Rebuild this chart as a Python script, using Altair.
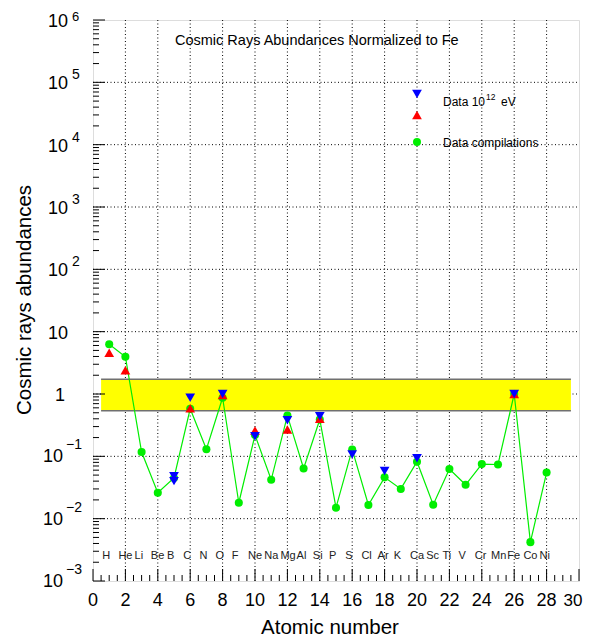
import altair as alt
import pandas as pd

# ---------------- data ----------------
elements = ["H", "He", "Li", "Be", "B", "C", "N", "O", "F", "Ne", "Na", "Mg", "Al", "Si",
            "P", "S", "Cl", "Ar", "K", "Ca", "Sc", "Ti", "V", "Cr", "Mn", "Fe", "Co", "Ni"]
z_all = list(range(1, 29))
compilation = [6.3, 3.96, 0.117, 0.026, 0.045, 0.58, 0.13, 0.87, 0.018, 0.22, 0.042, 0.45,
               0.064, 0.39, 0.015, 0.129, 0.0166, 0.046, 0.030, 0.082, 0.0167, 0.0625,
               0.035, 0.075, 0.074, 1.0, 0.0042, 0.055]
red_z = [1, 2, 6, 8, 10, 12, 14, 26]
red_v = [4.6, 2.4, 0.59, 0.96, 0.26, 0.27, 0.40, 1.0]
blue_z = [5, 5, 6, 8, 10, 12, 14, 16, 18, 20, 26]
blue_v = [0.048, 0.040, 0.87, 1.0, 0.21, 0.38, 0.44, 0.107, 0.058, 0.093, 1.0]
band_x = [0.5, 29.5]
band_y = [0.54, 1.73]
label_row_y = 0.0025
x_ticks = list(range(0, 31, 2))
y_exp_pos = [6, 5, 4, 3, 2]
y_exp_neg = [-1, -2, -3]

W, H = 486, 561
FONT = "Liberation Sans"

xs = alt.Scale(domain=[0, 30], nice=False, zero=False)
ys = alt.Scale(type="log", domain=[1e-3, 1e6], nice=False)

X = lambda f: alt.X(f, scale=xs, axis=None)
Y = lambda f: alt.Y(f, scale=ys, axis=None)

comp_df = pd.DataFrame({"z": z_all, "v": compilation, "el": elements})
red_df = pd.DataFrame({"z": red_z, "v": red_v})
blue_df = pd.DataFrame({"z": blue_z, "v": blue_v})
band_df = pd.DataFrame({"x": [band_x[0]], "x2": [band_x[1]], "y": [band_y[0]], "y2": [band_y[1]]})
band_lines_df = pd.DataFrame({"x": band_x[0], "x2": band_x[1], "y": band_y})
lbl_df = pd.DataFrame({"z": z_all, "el": elements, "y": label_row_y})

# grid
xgrid_df = pd.DataFrame({"x": x_ticks[1:-1]})
ygrid_df = pd.DataFrame({"y": [10.0 ** k for k in range(-2, 6)]})
xgrid = alt.Chart(xgrid_df).mark_rule(color="black", strokeDash=[1, 2.5], strokeWidth=1).encode(
    x=X("x:Q"), y=alt.value(0), y2=alt.value(H))
ygrid = alt.Chart(ygrid_df).mark_rule(color="black", strokeDash=[1, 2.5], strokeWidth=1).encode(
    y=Y("y:Q"), x=alt.value(0), x2=alt.value(W))

# inner ticks
x_major_df = pd.DataFrame({"x": x_ticks})
x_minor_df = pd.DataFrame({"x": [i * 0.5 for i in range(1, 60) if (i * 0.5) % 2 != 0]})
xmaj = alt.Chart(x_major_df).mark_rule(color="black").encode(
    x=X("x:Q"), y=alt.value(H), y2=alt.value(H - 12))
xmin = alt.Chart(x_minor_df).mark_rule(color="black").encode(
    x=X("x:Q"), y=alt.value(H), y2=alt.value(H - 6))
y_major_df = pd.DataFrame({"y": [10.0 ** k for k in range(-3, 7)]})
y_minor_df = pd.DataFrame({"y": [m * 10.0 ** k for k in range(-3, 6) for m in range(2, 10)]})
ymaj = alt.Chart(y_major_df).mark_rule(color="black").encode(
    y=Y("y:Q"), x=alt.value(0), x2=alt.value(12))
ymin = alt.Chart(y_minor_df).mark_rule(color="black").encode(
    y=Y("y:Q"), x=alt.value(0), x2=alt.value(6))

# x tick labels and axis titles
xlab = alt.Chart(pd.DataFrame({"x": x_ticks[:-1]})).mark_text(
    align="center", baseline="middle", font=FONT, fontSize=18, color="black").encode(
    x=X("x:Q"), y=alt.value(H + 20), text="x:N")
xlab_last = alt.Chart(pd.DataFrame({"x": x_ticks[-1:]})).mark_text(
    align="center", baseline="middle", font=FONT, fontSize=17, color="black", dx=-6).encode(
    x=X("x:Q"), y=alt.value(H + 20), text="x:N")
one = pd.DataFrame({"a": [0]})
xtitle = alt.Chart(one).mark_text(text="Atomic number", align="center", baseline="middle",
                                  font=FONT, fontSize=20.5, color="black").encode(
    x=alt.value(237), y=alt.value(H + 47))
ytitle = alt.Chart(one).mark_text(text="Cosmic rays abundances", align="center", baseline="middle",
                                  font=FONT, fontSize=20.5, color="black", angle=270).encode(
    x=alt.value(-68), y=alt.value(280))

# y labels with superscripts
pos_df = pd.DataFrame({"y": [10.0 ** k for k in y_exp_pos], "e": [str(k) for k in y_exp_pos], "b": "10"})
neg_df = pd.DataFrame({"y": [10.0 ** k for k in y_exp_neg],
                       "e": ["\u2212" + str(-k) for k in y_exp_neg], "b": "10"})
plain_df = pd.DataFrame({"y": [10.0, 1.0], "t": ["10", "1"]})


def ytext(df, field, xpix, align, size, dy):
    return alt.Chart(df).mark_text(align=align, baseline="middle", font=FONT, fontSize=size,
                                   color="black", dy=dy).encode(
        y=Y("y:Q"), x=alt.value(xpix), text=f"{field}:N")


ylab = [
    ytext(pos_df, "b", -25, "right", 18, 2),
    ytext(pos_df.iloc[1:], "e", -21, "left", 14, -7),
    ytext(pos_df.iloc[[0]], "e", -21, "left", 13, -3),
    ytext(neg_df, "b", -30, "right", 18, 1),
    ytext(neg_df, "e", -27, "left", 14, -11),
    ytext(plain_df.iloc[[0]], "t", -25, "right", 18, 2),
    ytext(plain_df.iloc[[1]], "t", -28, "right", 18, 2),
]

band = alt.Chart(band_df).mark_rect(color="#ffff00").encode(
    x=X("x:Q"), x2="x2:Q", y=Y("y:Q"), y2="y2:Q")
band_lines = alt.Chart(band_lines_df).mark_rule(color="#707070", strokeWidth=1.5).encode(
    x=X("x:Q"), x2="x2:Q", y=Y("y:Q"))

line = alt.Chart(comp_df).mark_line(color="#00ee00", strokeWidth=1.2).encode(
    x=X("z:Q"), y=Y("v:Q"))
green = alt.Chart(comp_df).mark_point(shape="circle", filled=True, color="#00ee00", size=65, opacity=1).encode(
    x=X("z:Q"), y=Y("v:Q"))
red = alt.Chart(red_df).mark_point(shape="triangle-up", filled=True, color="#ff0000", size=95, opacity=1).encode(
    x=X("z:Q"), y=Y("v:Q"))
blue = alt.Chart(blue_df).mark_point(shape="triangle-down", filled=True, color="#0000ff", size=95, opacity=1).encode(
    x=X("z:Q"), y=Y("v:Q"))

labels = alt.Chart(lbl_df).mark_text(align="left", baseline="middle", font=FONT, fontSize=11,
                                     color="#222222", dx=-7).encode(
    x=X("z:Q"), y=Y("y:Q"), text="el:N")

# title and legend (decorations at fixed places)
title = alt.Chart(one).mark_text(text="Cosmic Rays Abundances Normalized to Fe", align="left",
                                 baseline="middle", font=FONT, fontSize=14.5, color="black").encode(
    x=alt.value(82), y=alt.value(21))
leg_blue = alt.Chart(one).mark_point(shape="triangle-down", filled=True, color="#0000ff", size=95, opacity=1).encode(
    x=alt.value(324), y=alt.value(74))
leg_red = alt.Chart(one).mark_point(shape="triangle-up", filled=True, color="#ff0000", size=95, opacity=1).encode(
    x=alt.value(324), y=alt.value(95))
leg_green = alt.Chart(one).mark_point(shape="circle", filled=True, color="#00ee00", size=65, opacity=1).encode(
    x=alt.value(324), y=alt.value(122))
leg_t1 = alt.Chart(one).mark_text(text="Data 10", align="left", baseline="middle", font=FONT,
                                  fontSize=12, color="black").encode(x=alt.value(350), y=alt.value(82))
leg_t1s = alt.Chart(one).mark_text(text="12", align="left", baseline="middle", font=FONT,
                                   fontSize=8.5, color="black").encode(x=alt.value(393), y=alt.value(77))
leg_t1e = alt.Chart(one).mark_text(text="eV", align="left", baseline="middle", font=FONT,
                                   fontSize=12, color="black").encode(x=alt.value(408), y=alt.value(82))
leg_t2 = alt.Chart(one).mark_text(text="Data compilations", align="left", baseline="middle", font=FONT,
                                  fontSize=12, color="black").encode(x=alt.value(350), y=alt.value(123))

chart = alt.layer(
    xgrid, ygrid, band, band_lines, xmaj, xmin, ymaj, ymin, *ylab, xlab, xlab_last, xtitle, ytitle,
    line, green, red, blue, labels,
    title, leg_blue, leg_red, leg_green, leg_t1, leg_t1s, leg_t1e, leg_t2,
).properties(
    width=W, height=H,
    autosize=alt.AutoSizeParams(type="none"),
    padding={"left": 85, "top": 12, "right": 4, "bottom": 60},
).configure_view(stroke="black", strokeWidth=1.2).configure(background="white")

chart.save("out.html", embed_options={"renderer": "svg", "actions": False})
